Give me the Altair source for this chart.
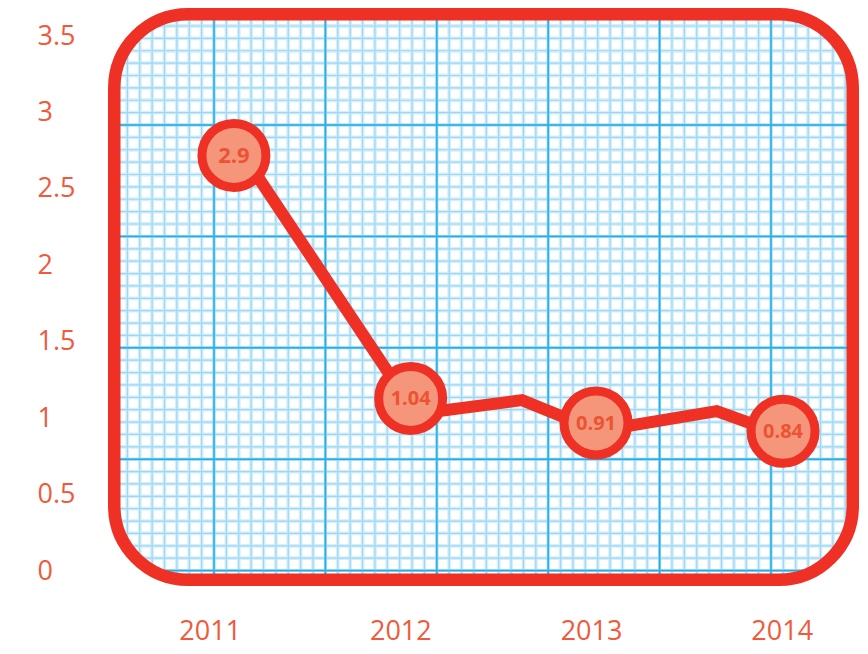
import altair as alt
import numpy as np
import pandas as pd

# ---------------- data ----------------
years = [2011, 2012, 2013, 2014]
point_x = [2011.127, 2012.054, 2013.026, 2014.007]
point_y = [2.719, 1.129, 0.969, 0.914]
point_labels = ["2.9", "1.04", "0.91", "0.84"]
line_x = [2011.159, 2012.082, 2012.638, 2013.037, 2013.659, 2014.007]
line_y = [2.753, 1.027, 1.118, 0.916, 1.046, 0.889]
y_ticks = [0, 0.5, 1, 1.5, 2, 2.5, 3, 3.5]

# ---------------- layout / style ----------------
W, H = 751, 578
PX_PER_YEAR = 190.67
X0 = 2010.4666
X_DOM = [X0, X0 + W / PX_PER_YEAR]
Y_DOM = [-0.0981, 3.6832]
RED = "#EE3124"
LABEL = "#F05A3C"
FILL = "#F5957A"
FONT = "Open Sans"

xs = alt.Scale(domain=X_DOM, nice=False, zero=False)
ys = alt.Scale(domain=Y_DOM, nice=False, zero=False)

AX_X = alt.Axis(values=years, format="d", labelFontSize=27, labelColor=LABEL, labelFont=FONT,
                domain=False, ticks=False, tickSize=0, grid=False, labelPadding=45,
                labelBaseline="middle", labelFlush=False, labelOverlap=False, title=None)
AX_Y = alt.Axis(values=y_ticks, format="~g", labelFontSize=27, labelColor=LABEL, labelFont=FONT,
                domain=False, ticks=False, tickSize=0, grid=False, labelPadding=71,
                labelAlign="left", labelBaseline="middle", labelOverlap=False, title=None)


def px_to_x(px):
    return X_DOM[0] + px / W * (X_DOM[1] - X_DOM[0])


def py_to_y(py):
    return Y_DOM[1] - py / H * (Y_DOM[1] - Y_DOM[0])


# graph-paper background texture (pixel spacing)
MAJOR = 111.4
MINOR = MAJOR / 9
vx0, hy0 = 106.0, 117.0
vrows, hrows = [], []
for k in range(-20, 80):
    p = vx0 + k * MINOR
    if 3 <= p <= W - 4:
        vrows.append({"gx": px_to_x(p), "major": k % 9 == 0})
    q = hy0 + k * MINOR
    if 3 <= q <= H - 4:
        hrows.append({"gy": py_to_y(q), "major": k % 9 == 0})
vgrid = pd.DataFrame(vrows)
hgrid = pd.DataFrame(hrows)


def vrule(df, color, sw, op=1.0):
    return alt.Chart(df).mark_rule(color=color, strokeWidth=sw, opacity=op).encode(
        x=alt.X("gx:Q", scale=xs, axis=AX_X), y=alt.value(0), y2=alt.value(H))


def hrule(df, color, sw, op=1.0):
    return alt.Chart(df).mark_rule(color=color, strokeWidth=sw, opacity=op).encode(
        y=alt.Y("gy:Q", scale=ys, axis=AX_Y), x=alt.value(0), x2=alt.value(W))


vmin, hmin = vgrid[~vgrid.major], hgrid[~hgrid.major]
vmaj, hmaj = vgrid[vgrid.major], hgrid[hgrid.major]
grid_layers = [
    vrule(vmin, "#D6EFFB", 3.8), hrule(hmin, "#D6EFFB", 3.8),
    vrule(vmin, "#9CD8F4", 1.2), hrule(hmin, "#9CD8F4", 1.2),
    vrule(vmaj, "#8FD3F3", 3), hrule(hmaj, "#8FD3F3", 3),
    vrule(vmaj, "#22AEE6", 1.4), hrule(hmaj, "#22AEE6", 1.4),
]

one = alt.Data(values=[{"a": 1}])

# white band that hides grid outside the rounded frame
cover = alt.Chart(one).mark_rect(
    clip=True, fillOpacity=0, stroke="white", strokeWidth=44, cornerRadius=99
).encode(x=alt.value(-19), x2=alt.value(W + 19), y=alt.value(-19), y2=alt.value(H + 19))

frame = alt.Chart(one).mark_rect(
    fillOpacity=0, stroke=RED, strokeWidth=12.5, cornerRadius=74
).encode(x=alt.value(6.25), x2=alt.value(W - 6.25), y=alt.value(6.25), y2=alt.value(H - 6.25))

line_df = pd.DataFrame({"x": line_x, "y": line_y, "o": list(range(len(line_x)))})
pts_df = pd.DataFrame({"x": point_x, "y": point_y, "label": point_labels})

line = alt.Chart(line_df).mark_line(color=RED, strokeWidth=12, strokeJoin="miter").encode(
    x=alt.X("x:Q", scale=xs, axis=AX_X),
    y=alt.Y("y:Q", scale=ys, axis=AX_Y),
    order="o:Q",
)

points = alt.Chart(pts_df).mark_point(
    shape="circle", filled=True, size=4096, fill=FILL, stroke=RED, strokeWidth=9, opacity=1
).encode(x=alt.X("x:Q", scale=xs, axis=AX_X), y=alt.Y("y:Q", scale=ys, axis=AX_Y))

texts = alt.Chart(pts_df).mark_text(
    font=FONT, fontWeight="bold", color="#EC5333", baseline="middle", dy=1
).encode(
    x=alt.X("x:Q", scale=xs, axis=AX_X), y=alt.Y("y:Q", scale=ys, axis=AX_Y), text="label:N",
    size=alt.condition("length(datum.label) <= 3", alt.value(22), alt.value(20)),
)

chart = alt.layer(*grid_layers, cover, frame, line, points, texts).properties(
    width=W, height=H,
    autosize=alt.AutoSizeParams(type="none"),
    padding={"left": 100, "top": 0, "right": 1, "bottom": 60},
).configure_view(strokeWidth=0)

chart.save("out.html", embed_options={"renderer": "svg", "actions": False})
